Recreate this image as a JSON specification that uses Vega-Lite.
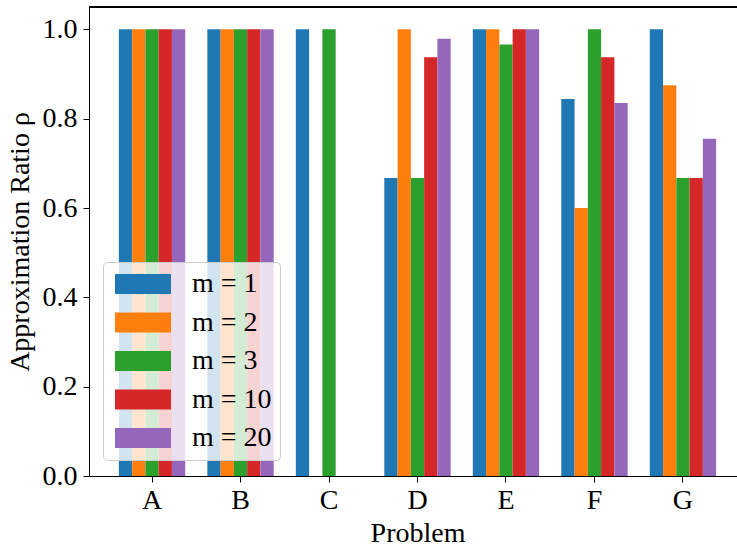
{
  "$schema": "https://vega.github.io/schema/vega-lite/v6.json",
  "width": 648,
  "height": 469,
  "autosize": {"type": "none"},
  "padding": {"left": 89, "top": 7, "right": 0, "bottom": 70},
  "background": "white",
  "config": {
    "view": {"stroke": null},
    "font": "Liberation Serif",
    "style": {"guide-title": {"font": "Liberation Serif", "fontWeight": "normal"}, "guide-label": {"font": "Liberation Serif"}},
    "axis": {
      "labelFont": "Liberation Serif",
      "titleFont": "Liberation Serif",
      "labelFontSize": 28,
      "titleFontSize": 28,
      "titleFontWeight": "normal",
      "labelColor": "black",
      "titleColor": "black",
      "domainColor": "black",
      "tickColor": "black",
      "domainWidth": 1,
      "tickWidth": 1,
      "tickSize": 6,
      "grid": false
    },
    "legend": {
      "labelFont": "Liberation Serif",
      "labelFontSize": 28,
      "labelColor": "black"
    }
  },
  "data": {
    "values": [
      {"problem": "A", "m": "m = 1", "ratio": 1},
      {"problem": "A", "m": "m = 2", "ratio": 1},
      {"problem": "A", "m": "m = 3", "ratio": 1},
      {"problem": "A", "m": "m = 10", "ratio": 1},
      {"problem": "A", "m": "m = 20", "ratio": 1},
      {"problem": "B", "m": "m = 1", "ratio": 1},
      {"problem": "B", "m": "m = 2", "ratio": 1},
      {"problem": "B", "m": "m = 3", "ratio": 1},
      {"problem": "B", "m": "m = 10", "ratio": 1},
      {"problem": "B", "m": "m = 20", "ratio": 1},
      {"problem": "C", "m": "m = 1", "ratio": 1},
      {"problem": "C", "m": "m = 3", "ratio": 1},
      {"problem": "D", "m": "m = 1", "ratio": 0.667},
      {"problem": "D", "m": "m = 2", "ratio": 1},
      {"problem": "D", "m": "m = 3", "ratio": 0.667},
      {"problem": "D", "m": "m = 10", "ratio": 0.9375},
      {"problem": "D", "m": "m = 20", "ratio": 0.979},
      {"problem": "E", "m": "m = 1", "ratio": 1},
      {"problem": "E", "m": "m = 2", "ratio": 1},
      {"problem": "E", "m": "m = 3", "ratio": 0.966},
      {"problem": "E", "m": "m = 10", "ratio": 1},
      {"problem": "E", "m": "m = 20", "ratio": 1},
      {"problem": "F", "m": "m = 1", "ratio": 0.844},
      {"problem": "F", "m": "m = 2", "ratio": 0.6},
      {"problem": "F", "m": "m = 3", "ratio": 1},
      {"problem": "F", "m": "m = 10", "ratio": 0.9375},
      {"problem": "F", "m": "m = 20", "ratio": 0.835},
      {"problem": "G", "m": "m = 1", "ratio": 1},
      {"problem": "G", "m": "m = 2", "ratio": 0.875},
      {"problem": "G", "m": "m = 3", "ratio": 0.667},
      {"problem": "G", "m": "m = 10", "ratio": 0.667},
      {"problem": "G", "m": "m = 20", "ratio": 0.755}
    ]
  },
  "layer": [
    {
      "mark": {"type": "bar", "opacity": 1},
      "encoding": {
        "x": {
          "field": "problem",
          "type": "nominal",
          "sort": ["A", "B", "C", "D", "E", "F", "G"],
          "scale": {"range": [0, 657], "paddingInner": 0.25, "paddingOuter": 0.3375},
          "axis": {"title": "Problem", "titleFont": "Liberation Serif", "titleFontWeight": "normal", "labelAngle": 0, "labelPadding": 4, "titlePadding": 5}
        },
        "xOffset": {
          "field": "m",
          "type": "nominal",
          "scale": {"domain": ["m = 1", "m = 2", "m = 3", "m = 10", "m = 20"], "paddingInner": 0, "paddingOuter": 0}
        },
        "y": {
          "field": "ratio",
          "type": "quantitative",
          "scale": {"domain": [0, 1.05], "nice": false, "zero": true},
          "axis": {"title": "Approximation Ratio ρ", "titleFont": "Liberation Serif", "titleFontWeight": "normal", "values": [0, 0.2, 0.4, 0.6, 0.8, 1.0], "format": ".1f", "labelPadding": 6, "titlePadding": 8}
        },
        "color": {
          "field": "m",
          "type": "nominal",
          "scale": {
            "domain": ["m = 1", "m = 2", "m = 3", "m = 10", "m = 20"],
            "range": ["#1f77b4", "#ff7f0e", "#2ca02c", "#d62728", "#9467bd"]
          },
          "legend": {
            "title": null,
            "orient": "none",
            "legendX": 14,
            "legendY": 255,
            "padding": 8,
            "strokeColor": "#cccccc",
            "fillColor": "rgba(255,255,255,0.8)",
            "cornerRadius": 4,
            "symbolType": "M-1,-1H4.6V1H-1Z",
            "symbolSize": 400,
            "symbolStrokeWidth": 0,
            "symbolOpacity": 1,
            "labelOffset": 53,
            "rowPadding": 10.5
          }
        }
      }
    },
    {
      "mark": {"type": "rule", "color": "black", "strokeWidth": 1},
      "encoding": {"y": {"datum": 1.05}}
    }
  ]
}
